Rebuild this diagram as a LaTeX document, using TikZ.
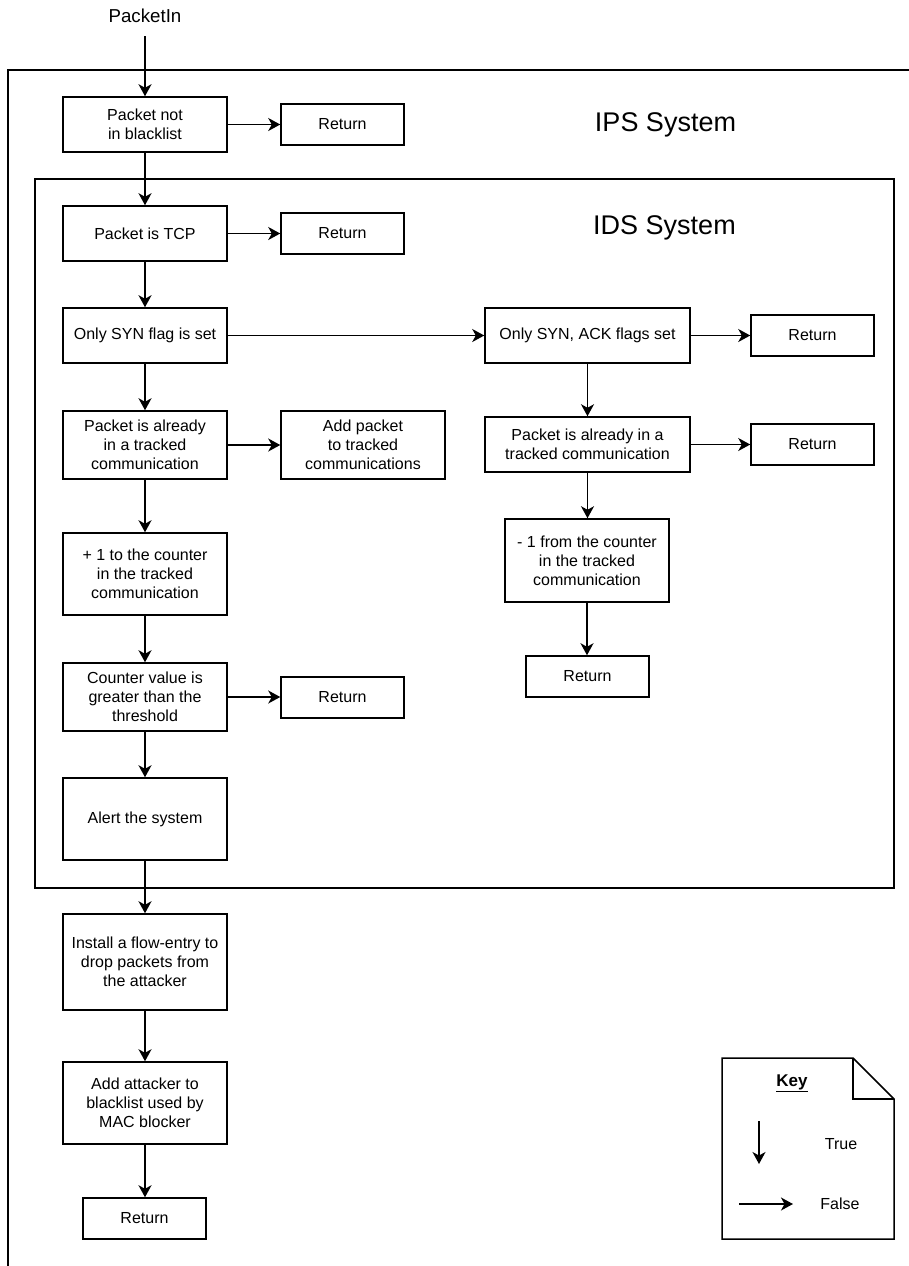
\documentclass[tikz,border=0pt]{standalone}
\usepackage{fontspec}
\setmainfont{Liberation Sans}
\usetikzlibrary{arrows.meta}
\tikzset{
  box/.style={draw, line width=1.5pt, rectangle, align=center, inner sep=2pt,
    font=\fontsize{16}{19}\selectfont},
  bigbox/.style={box, minimum width=164pt},
  retbox/.style={box, minimum width=123pt, minimum height=41pt},
  flow/.style={line width=1.5pt, -{Stealth[length=12pt,width=13pt,inset=3.5pt]}},
  frame/.style={line width=1.5pt},
  title/.style={font=\fontsize{27}{32}\selectfont},
}
\begin{document}
\begin{tikzpicture}[x=1pt,y=-1pt]
\useasboundingbox (0,0) rectangle (909,1266);
% outer IPS frame (cut by the picture edges)
\draw[frame] (909,70) -- (8,70) -- (8,1266);
% inner IDS frame
\draw[frame] (35,179) rectangle (894,888);
\node[title] (ips) at (665.5,125) {IPS System};
\node[title] (ids) at (664.5,228) {IDS System};

\node[font=\fontsize{18.7}{22}\selectfont] (pin) at (145,16) {PacketIn};
\coordinate (pinb) at (145,36);

\node[bigbox, minimum height=55pt] (pnb) at (145,124.5) {Packet not\\in blacklist};
\node[retbox] (r1) at (342.5,124.5) {Return};
\node[bigbox, minimum height=55pt] (tcp) at (145,233.5) {Packet is TCP};
\node[retbox] (r2) at (342.5,233.5) {Return};
\node[bigbox, minimum height=55pt] (syn) at (145,335.5) {Only SYN flag is set};
\node[box, minimum width=205pt, minimum height=55pt] (synack) at (587.5,335.5) {Only SYN, ACK flags set};
\node[retbox] (r3) at (812.5,335.5) {Return};
\node[bigbox, minimum height=68pt] (trk) at (145,445) {Packet is already\\in a tracked\\communication};
\node[bigbox, minimum height=68pt] (addp) at (363,445) {Add packet\\to tracked\\communications};
\node[box, minimum width=205pt, minimum height=55pt] (trk2) at (587.5,444.5) {Packet is already in a\\tracked communication};
\node[retbox] (r4) at (812.5,444.5) {Return};
\node[bigbox, minimum height=82pt] (plus) at (145,574) {+ 1 to the counter\\in the tracked\\communication};
\node[bigbox, minimum height=83pt] (minus) at (587,560.5) {- 1 from the counter\\in the tracked\\communication};
\node[retbox] (r5) at (587.5,676.5) {Return};
\node[bigbox, minimum height=68pt] (cnt) at (145,697) {Counter value is\\greater than the\\threshold};
\node[retbox] (r6) at (342.5,697.5) {Return};
\node[bigbox, minimum height=82pt] (alert) at (145,819) {Alert the system};
\node[bigbox, minimum height=96pt] (inst) at (145,962) {Install a flow-entry to\\drop packets from\\the attacker};
\node[bigbox, minimum height=82pt] (attk) at (145,1103) {Add attacker to\\blacklist used by\\MAC blocker};
\node[retbox] (r7) at (144.5,1218.5) {Return};

% true (down) arrows
\draw[flow] (pinb) -- (pnb);
\draw[flow] (pnb) -- (tcp);
\draw[flow] (tcp) -- (syn);
\draw[flow] (syn) -- (trk);
\draw[flow] (trk) -- (plus);
\draw[flow] (plus) -- (cnt);
\draw[flow] (cnt) -- (alert);
\draw[flow] (alert) -- (inst);
\draw[flow] (inst) -- (attk);
\draw[flow] (attk.south) -- (attk.south |- r7.north);
\draw[flow] (synack) -- (trk2);
\draw[flow] (trk2) -- (trk2 |- minus.north);
\draw[flow] (minus.south) -- (minus.south |- r5.north);
% false (right) arrows
\draw[flow] (pnb) -- (r1);
\draw[flow] (tcp) -- (r2);
\draw[flow] (syn) -- (synack);
\draw[flow] (synack) -- (r3);
\draw[flow] (trk) -- (addp);
\draw[flow] (trk2) -- (r4);
\draw[flow] (cnt.east) -- (cnt.east -| r6.west);

% key
\coordinate (k1) at (722,1058);
\coordinate (k2) at (853,1058);
\coordinate (k3) at (894,1099);
\coordinate (k4) at (894,1239);
\coordinate (k5) at (722,1239);
\coordinate (kf) at (853,1099);
\draw[frame, line join=miter] (k1) -- (k2) -- (k3) -- (k4) -- (k5) -- cycle;
\draw[frame] (k2) -- (kf) -- (k3);
\node[font=\fontsize{17}{20}\selectfont\bfseries] (keyt) at (792,1083) {\underline{Key}};
\coordinate (ta) at (759,1121);
\coordinate (tb) at (759,1164);
\draw[flow] (ta) -- (tb);
\node[font=\fontsize{16}{19}\selectfont] (tt) at (841,1144) {True};
\coordinate (fa) at (739,1204);
\coordinate (fb) at (793,1204);
\draw[flow] (fa) -- (fb);
\node[font=\fontsize{16}{19}\selectfont] (ft) at (840,1204) {False};
\end{tikzpicture}
\end{document}
